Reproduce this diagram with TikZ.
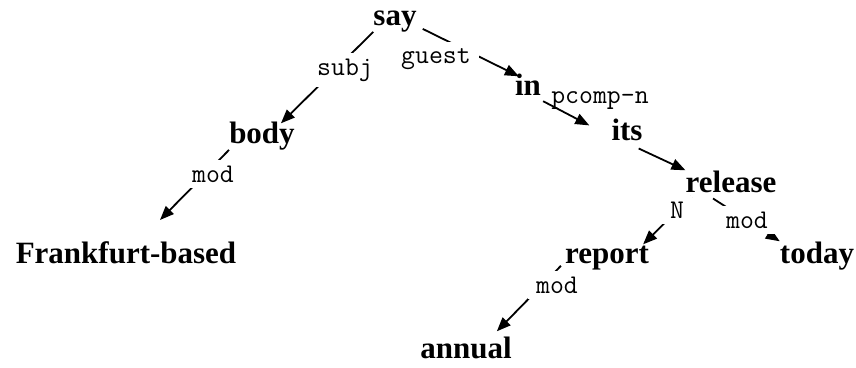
\documentclass[tikz,border=0pt]{standalone}
\usepackage{fontspec}
\setmainfont{Liberation Serif}
\usetikzlibrary{arrows.meta}
\tikzstyle{word} = [font=\bfseries\fontsize{31}{31}\selectfont, inner sep=0pt, anchor=base]
\tikzstyle{rel} = [font=\ttfamily\fontsize{27}{27}\selectfont, fill=white, inner xsep=8pt, inner ysep=6pt, anchor=base]
\tikzstyle{arrow} = [line width=1.8pt, -{Triangle[length=14pt,width=11pt]}]

\begin{document}
\begin{tikzpicture}[x=1pt, y=-1pt]
\useasboundingbox (0,0) rectangle (856,367);

% words
\node (say) [word] at (395,25) {say};
\node (body) [word] at (262,143) {body};
\node (fb) [word] at (126,263) {Frankfurt-based};
\node (in) [word] at (528,95) {in};
\node (its) [word] at (627,140) {its};
\node (release) [word] at (731,192) {release};
\node (report) [word] at (607,263) {report};
\node (today) [word] at (817,263) {today};
\node (annual) [word] at (466,358) {annual};

% dependencies
\draw [arrow] (say.south west) -- ([shift={(-14,2)}]body.north east);
\draw [arrow] ([shift={(6,-3)}]say.south east) -- ([shift={(4,3)}]in.north west);
\draw [arrow] ([shift={(2,6)}]in.south east) -- ([shift={(-22,-4)}]its.west);
\draw [arrow] ([shift={(-4,8)}]its.south east) -- (release.north west);
\draw [arrow] (body.south west) -- ([shift={(34,-21)}]fb.north);
\draw [arrow] ([shift={(6,4)}]release.south west) -- ([shift={(-6,-1)}]report.north east);
\draw [arrow] ([shift={(-18,6)}]release.south) -- (today.north west);
\draw [arrow] ([shift={(-4,-4)}]report.south west) -- ([shift={(-15,-5)}]annual.north east);

% relation names
\node (subj) [rel] at (345,75) {subj};
\node (guest) [rel] at (436,63) {guest};
\node (pcomp) [rel, fill=none] at (600,103) {pcomp-n};
\node (mod1) [rel] at (213,182) {mod};
\node (n) [rel] at (677,218) {N};
\node (mod2) [rel] at (747,228) {mod};
\node (mod3) [rel] at (557,293) {mod};

\end{tikzpicture}
\end{document}
